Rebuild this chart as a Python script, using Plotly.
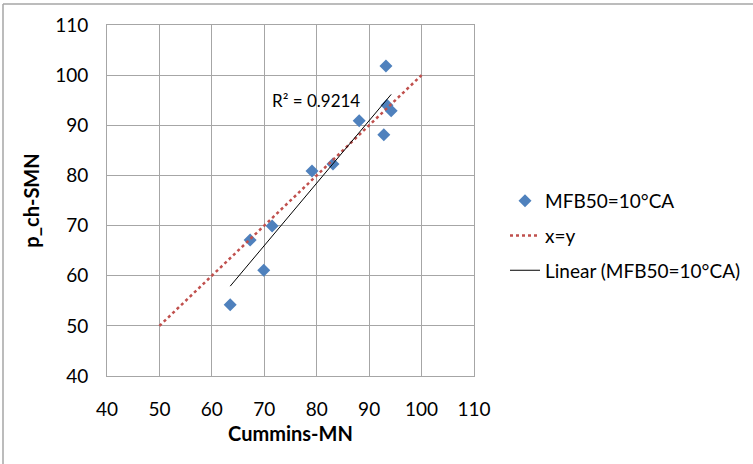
import numpy as np
import plotly.graph_objects as go

# data
cummins_mn = [93.2, 93.4, 94.2, 92.8, 88.1, 79.1, 83.1, 71.5, 67.3, 69.9, 63.5]
p_ch_smn = [101.8, 94.0, 92.9, 88.1, 90.9, 80.9, 82.3, 69.9, 67.1, 61.1, 54.2]
xy_line = [50, 100]
r2_label = "R² = 0.9214"
series_name = "MFB50=10°CA"
xy_name = "x=y"
fit_name = "Linear (MFB50=10°CA)"
x_ticks = [40, 50, 60, 70, 80, 90, 100, 110]
y_ticks = [40, 50, 60, 70, 80, 90, 100, 110]

W, H = 753, 464
L, R, T, B = 107, 279, 25, 88
pw, ph = W - L - R, H - T - B

def px(xp):
    return (xp - L) / pw

def py(yp):
    return (H - B - yp) / ph

slope, icpt = np.polyfit(cummins_mn, p_ch_smn, 1)
fx = [min(cummins_mn), max(cummins_mn)]
fy = [slope * v + icpt for v in fx]

font = "Lato, 'Open Sans', sans-serif"
fig = go.Figure()
fig.add_trace(go.Scatter(x=cummins_mn, y=p_ch_smn, mode="markers", name=series_name,
                         marker=dict(symbol="diamond", size=10, color="#4F81BD"),
                         legendgroup="a"))
fig.add_trace(go.Scatter(x=xy_line, y=xy_line, mode="lines", name=xy_name,
                         line=dict(color="#C0504D", width=2.5, dash="3px,3px"),
                         legendgroup="b"))
fig.add_trace(go.Scatter(x=fx, y=fy, mode="lines", name=fit_name,
                         line=dict(color="black", width=1),
                         legendgroup="c"))

fig.add_annotation(x=79.9, y=95.0, text=r2_label, showarrow=False,
                   font=dict(size=17, color="black", family=font), xanchor="center")

axis_common = dict(showgrid=True, gridcolor="#A6A6A6", gridwidth=1,
                   showline=True, linecolor="#A6A6A6", linewidth=1, mirror=True,
                   zeroline=False, ticks="", tickfont=dict(size=19, color="black", family=font))
fig.update_xaxes(range=[40, 110], tickvals=x_ticks, ticklabelstandoff=16,
                 title=dict(text="<b>Cummins-MN</b>",
                            font=dict(size=20, color="black", family=font), standoff=8),
                 **axis_common)
fig.update_yaxes(range=[40, 110], tickvals=y_ticks, ticklabelstandoff=14,
                 title=dict(text="<b>p_ch-SMN</b>",
                            font=dict(size=20, color="black", family=font), standoff=10),
                 **axis_common)

fig.add_shape(type="line", xref="paper", yref="paper",
              x0=px(3), x1=px(3), y0=py(470), y1=py(4),
              line=dict(color="#A6A6A6", width=1.5), layer="below")
fig.add_shape(type="line", xref="paper", yref="paper",
              x0=px(3), x1=px(760), y0=py(4), y1=py(4),
              line=dict(color="#A6A6A6", width=1.5), layer="below")

fig.update_layout(
    width=W, height=H, margin=dict(l=L, r=R, t=T, b=B, autoexpand=False),
    plot_bgcolor="white", paper_bgcolor="white",
    font=dict(family=font, color="black"),
    legend=dict(x=px(505), y=py(182), xanchor="left", yanchor="top",
                font=dict(size=19, color="black", family=font),
                traceorder="grouped", tracegroupgap=7, itemwidth=30,
                bgcolor="rgba(0,0,0,0)"),
)
fig.write_html("out.html")
